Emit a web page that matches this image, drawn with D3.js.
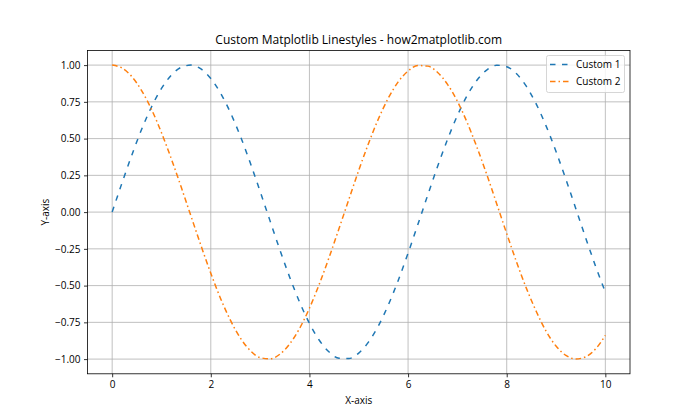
<!DOCTYPE html>
<html><head><meta charset="utf-8">
<script src="https://cdn.jsdelivr.net/npm/d3@7"></script>
<style>body{margin:0;background:#fff}svg{display:block}text{font-family:"Segoe UI","Open Sans","DejaVu Sans",sans-serif;fill:#000}</style>
</head><body><svg id="c" width="700" height="420"></svg>
<script>
const xs = [0,0.2,0.4,0.6,0.8,1.0,1.2,1.4,1.6,1.8,2.0,2.2,2.4,2.6,2.8,3.0,3.2,3.4,3.6,3.8,4.0,4.2,4.4,4.6,4.8,5.0,5.2,5.4,5.6,5.8,6.0,6.2,6.4,6.6,6.8,7.0,7.2,7.4,7.6,7.8,8.0,8.2,8.4,8.6,8.8,9.0,9.2,9.4,9.6,9.8,10.0];
const custom1 = [0.000,0.199,0.389,0.565,0.717,0.841,0.932,0.985,1.000,0.974,0.909,0.808,0.675,0.516,0.335,0.141,-0.058,-0.256,-0.443,-0.612,-0.757,-0.872,-0.952,-0.994,-0.996,-0.959,-0.883,-0.773,-0.631,-0.465,-0.279,-0.083,0.117,0.312,0.494,0.657,0.794,0.899,0.968,0.999,0.989,0.941,0.855,0.734,0.585,0.412,0.223,0.025,-0.174,-0.366,-0.544];
const custom2 = [1.000,0.980,0.921,0.825,0.697,0.540,0.362,0.170,-0.029,-0.227,-0.416,-0.589,-0.737,-0.857,-0.942,-0.990,-0.998,-0.967,-0.897,-0.791,-0.654,-0.490,-0.307,-0.112,0.087,0.284,0.469,0.635,0.776,0.886,0.960,0.997,0.993,0.950,0.869,0.754,0.608,0.438,0.252,0.054,-0.146,-0.340,-0.519,-0.676,-0.811,-0.911,-0.975,-0.999,-0.985,-0.932,-0.839];
const xTicks = [0,2,4,6,8,10];
const yTicks = [-1.00,-0.75,-0.50,-0.25,0.00,0.25,0.50,0.75,1.00];
const seriesNames = ["Custom 1","Custom 2"];
const colors = ["#1f77b4","#ff7f0e"];
const dashes = ["5.5,6.5","5.5,3,1.5,3"];

const svg = d3.select("#c");
const L=87.5, R=630, T=50.4, B=373.8;
const x = d3.scaleLinear().domain([-0.5,10.5]).range([L,R]);
const y = d3.scaleLinear().domain([-1.1,1.1]).range([B,T]);

const grid = svg.append("g");
xTicks.forEach(t=>grid.append("line").attr("x1",x(t)).attr("x2",x(t)).attr("y1",T).attr("y2",B).attr("stroke","#b0b0b0").attr("stroke-width",0.8));
yTicks.forEach(t=>grid.append("line").attr("x1",L).attr("x2",R).attr("y1",y(t)).attr("y2",y(t)).attr("stroke","#b0b0b0").attr("stroke-width",0.8));

const xa = svg.append("g").attr("transform",`translate(0,${B})`).call(d3.axisBottom(x).tickValues(xTicks).tickFormat(d3.format("d")).tickSize(3.5).tickPadding(3.5));
const ya = svg.append("g").attr("transform",`translate(${L},0)`).call(d3.axisLeft(y).tickValues(yTicks).tickFormat(d3.format(".2f")).tickSize(3.5).tickPadding(3.5));
[xa,ya].forEach(a=>{a.select(".domain").remove();a.selectAll("text").attr("font-size",10).style("font-family",'"Segoe UI","Open Sans","DejaVu Sans",sans-serif');a.selectAll("line").attr("stroke","#000").attr("stroke-width",0.8);});

const line = d3.line().x((d,i)=>x(xs[i])).y(d=>y(d)).curve(d3.curveMonotoneX);
[custom1,custom2].forEach((s,k)=>{
  svg.append("path").datum(s).attr("d",line).attr("fill","none").attr("stroke",colors[k]).attr("stroke-width",1.5).attr("stroke-dasharray",dashes[k]);
});

svg.append("rect").attr("x",L).attr("y",T).attr("width",R-L).attr("height",B-T).attr("fill","none").attr("stroke","#000").attr("stroke-width",0.8);

svg.append("text").attr("x",(L+R)/2).attr("y",T-6).attr("text-anchor","middle").attr("font-size",12).text("Custom Matplotlib Linestyles - how2matplotlib.com");
svg.append("text").attr("x",(L+R)/2).attr("y",404).attr("text-anchor","middle").attr("font-size",10).text("X-axis");
svg.append("text").attr("transform",`translate(49,${(T+B)/2}) rotate(-90)`).attr("text-anchor","middle").attr("font-size",10).text("Y-axis");

const lg = svg.append("g");
lg.append("rect").attr("x",546.5).attr("y",55.5).attr("width",78).attr("height",37).attr("rx",2).attr("fill","#fff").attr("fill-opacity",0.8).attr("stroke","#ccc").attr("stroke-width",0.8);
seriesNames.forEach((n,k)=>{
  const yy = 64.5 + k*17;
  lg.append("line").attr("x1",550).attr("x2",570).attr("y1",yy).attr("y2",yy).attr("stroke",colors[k]).attr("stroke-width",1.5).attr("stroke-dasharray",dashes[k]);
  lg.append("text").attr("x",576).attr("y",yy+3.5).attr("font-size",10).text(n);
});
</script></body></html>
